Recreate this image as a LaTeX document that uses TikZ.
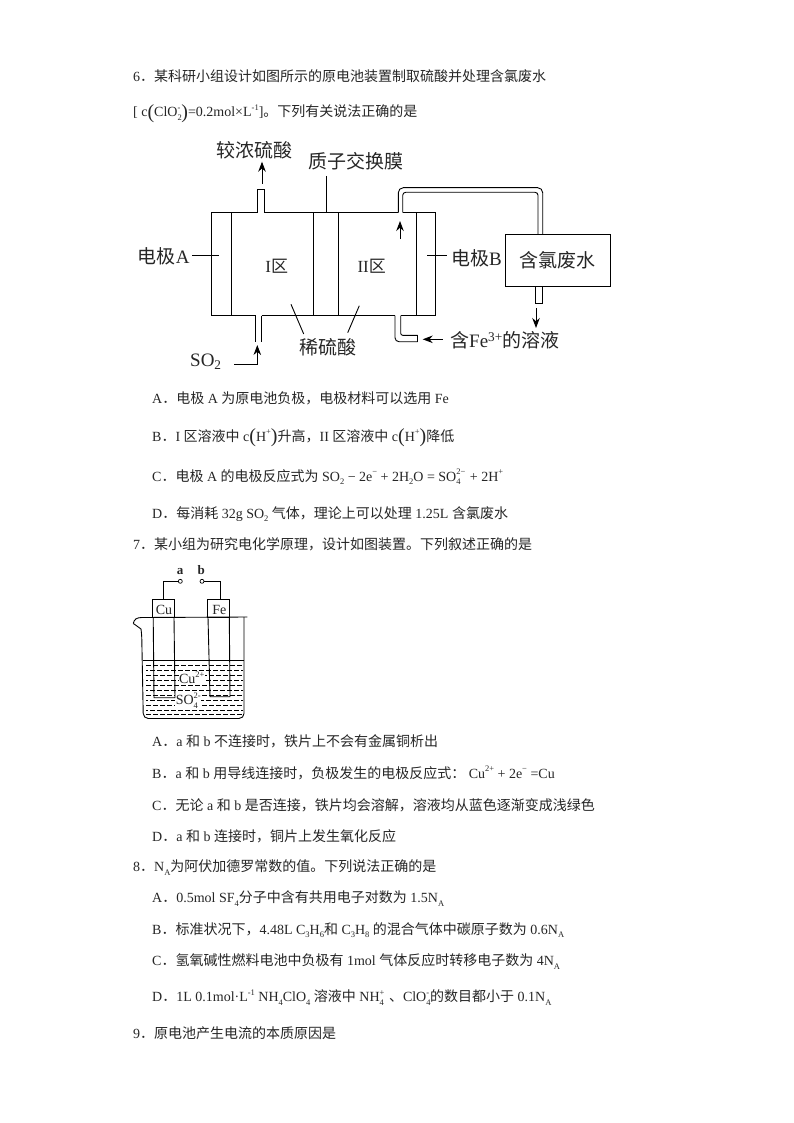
\documentclass[tikz,border=0pt]{standalone}
\usepackage{fontspec}
\setmainfont{Liberation Serif}
\newfontfamily\cjk{Noto Sans CJK SC}
\usetikzlibrary{arrows.meta}
\newcommand\zh[1]{{\cjk #1}}
\newcommand\scr[1]{{\fontsize{8.5}{8.5}\selectfont #1}}
\newcommand\dn[1]{\raisebox{-.25em}{\scr{#1}}}
\newcommand\up[1]{\raisebox{.45em}{\scr{#1}}}
\newcommand\stk[2]{\mbox{\rlap{\up{#1}}\rlap{\dn{#2}}\phantom{\scr{#1}}}\hspace{1pt}}
\newcommand\bigp[1]{\raisebox{-.12em}{\fontsize{20}{20}\selectfont #1}}
\tikzset{
  line/.style={draw=black,line width=.9pt},
  tip/.style={draw=black,line width=.9pt,-{Stealth[length=10pt,width=7.5pt]}},
  txt/.style={anchor=base west,inner sep=0pt,font=\fontsize{14}{14}\selectfont,text=black!85},
  lbl/.style={inner sep=0pt,font=\fontsize{19}{19}\selectfont,text=black!85},
  sml/.style={inner sep=0pt,font=\fontsize{14}{14}\selectfont,text=black!85},
  open/.style={circle,draw=black,fill=white,line width=.7pt,minimum size=4pt,inner sep=0pt},
}
\begin{document}
\begin{tikzpicture}[x=1pt,y=-1pt]
\useasboundingbox[fill=white] (0,0) rectangle (794,1123);

% ---------- question 6
\node[txt] (t1) at (133,82) {6\zh{．某科研小组设计如图所示的原电池装置制取硫酸并处理含氯废水}};
\node[txt] (t2) at (133,117) {[ c\bigp{(}ClO\stk{-}{2}\bigp{)}=0.2mol×L\up{-1}]\zh{。下列有关说法正确的是}};

% ---------- cell
\draw[line] (257.3,212.7) -- (211.3,212.7) -- (211.3,315.7) -- (255.7,315.7);
\draw[line] (261.7,315.7) -- (395,315.7);
\draw[line] (400.7,315.7) -- (435.3,315.7) -- (435.3,212.7) -- (402.7,212.7);
\draw[line] (398.3,212.7) -- (264,212.7);
\foreach \x in {231.7,313.3,338.7,416.7} \draw[line] (\x,212.7) -- (\x,315.7);
% upper outlet
\draw[line] (257.3,212.7) -- (257.3,189.3) -- (264,189.3) -- (264,212.7);
% tube to the waste-water box
\node[draw=black,line width=.9pt,fill=white,minimum width=104.3pt,minimum height=52.4pt,inner sep=0pt,font=\fontsize{19}{19}\selectfont,text=black!85] (box) at (557.85,260.5) {\zh{含氯废水}};
\draw[line,rounded corners=5pt] (398.3,212.7) -- (398.3,187.7) -- (542.7,187.7) -- (542.7,234.3);
\draw[line,rounded corners=3pt] (402.7,212.7) -- (402.7,192.3) -- (538,192.3) -- (538,234.3);
% box outlet
\draw[line] (535.3,286.7) -- (535.3,303.3) -- (542,303.3) -- (542,286.7);
% lower inlets
\draw[line] (255.7,315.7) -- (255.7,341.7);
\draw[line] (261.7,315.7) -- (261.7,341.7);
\draw[line,rounded corners=4pt] (395,315.7) -- (395,341.7) -- (417.7,341.7);
\draw[line,rounded corners=2pt] (400.7,315.7) -- (400.7,335.3) -- (417.7,335.3);
\draw[line] (417.7,335.3) -- (417.7,341.7);

% labels
\node[lbl] (conc) at (254,150) {\zh{较浓硫酸}};
\node[lbl] (memb) at (355.7,161) {\zh{质子交换膜}};
\node[lbl,anchor=west] (elA) at (137.7,256.7) {\zh{电极}A};
\node[lbl,anchor=west] (elB) at (451,258) {\zh{电极}B};
\node[lbl,font=\fontsize{17}{17}\selectfont] (r1) at (276.7,266.7) {I\zh{区}};
\node[lbl,font=\fontsize{17}{17}\selectfont] (r2) at (371.7,266.7) {II\zh{区}};
\node[lbl] (dil) at (328.3,347.7) {\zh{稀硫酸}};
\node[lbl,anchor=west] (so2) at (190,361.7) {SO\textsubscript{2}};
\node[lbl,anchor=west] (fe3) at (450,340) {\zh{含}Fe\textsuperscript{3+}\zh{的溶液}};

% leaders
\coordinate (la1) at (192.3,255.7); \coordinate (la2) at (218.7,255.7);
\coordinate (lb1) at (427,255.7);   \coordinate (lb2) at (446.7,255.7);
\coordinate (lm1) at (326,176);     \coordinate (lm2) at (326,212.7);
\coordinate (ld1) at (291,304.3);   \coordinate (ld2) at (303.7,334);
\coordinate (ld3) at (359.3,305.7); \coordinate (ld4) at (347.7,332.7);
\draw[line] (la1) -- (la2);
\draw[line] (lb1) -- (lb2);
\draw[line] (lm1) -- (lm2);
\draw[line] (ld1) -- (ld2);
\draw[line] (ld3) -- (ld4);

% arrows
\coordinate (u1) at (262,184);     \coordinate (u2) at (262,161.7);
\coordinate (v1) at (400,239);     \coordinate (v2) at (400,221);
\coordinate (w1) at (536,308);     \coordinate (w2) at (536,328);
\coordinate (f1) at (442.7,339.3); \coordinate (f2) at (422.7,339.3);
\coordinate (s1) at (234.3,364.3); \coordinate (s2) at (257.3,364.3); \coordinate (s3) at (257.3,345);
\draw[tip] (u1) -- (u2);
\draw[tip] (v1) -- (v2);
\draw[tip] (w1) -- (w2);
\draw[tip] (f1) -- (f2);
\draw[tip] (s1) -- (s2) -- (s3);

% options of 6
\node[txt] (a6) at (152,403) {A\zh{．电极} A \zh{为原电池负极，电极材料可以选用} Fe};
\node[txt] (b6) at (152,441) {B\zh{．}I \zh{区溶液中} c\bigp{(}H\up{+}\bigp{)}\zh{升高，}II \zh{区溶液中} c\bigp{(}H\up{+}\bigp{)}\zh{降低}};
\node[txt] (c6) at (152,481) {C\zh{．电极} A \zh{的电极反应式为} SO\dn{2} − 2e\up{−} + 2H\dn{2}O = SO\stk{2−}{4} + 2H\up{+}};
\node[txt] (d6) at (152,518) {D\zh{．每消耗} 32g SO\dn{2} \zh{气体，理论上可以处理} 1.25L \zh{含氯废水}};

% ---------- question 7
\node[txt] (t7) at (133,549) {7\zh{．某小组为研究电化学原理，设计如图装置。下列叙述正确的是}};

% beaker
\coordinate (rimL) at (141.7,617.5);
\coordinate (rimR) at (247.3,617);
\foreach \y/\ph in {665.5/0,670.5/3,675.5/0,680.5/3,685.5/0,690.5/3,695.5/0,700.5/3,705.5/0,710.5/3,714.5/0}
  \draw[line width=.7pt,dash pattern=on 4.5pt off 2.5pt,dash phase=\ph pt] (146,\y) -- (243,\y);
\draw[line width=.8pt] (143,660.7) -- (244,660.7);
\node[sml,fill=white,inner sep=.5pt] (cu2) at (191.7,678) {Cu\up{2+}};
\node[sml,fill=white,inner sep=.5pt] (so4) at (188.3,700.7) {SO\stk{2-}{4}};
\draw[line] (133.3,623.5) .. controls (134,619) and (137,617.6) .. (rimL) -- (rimR);
\draw[line,rounded corners=5pt] (133.3,623.5) .. controls (137,626) and (141,629) .. (141.7,634) -- (143.3,718.5) -- (244,718.5) -- (244,617);
% plates
\node[sml] (cuL) at (164,610) {Cu};
\node[sml] (feL) at (219.3,610) {Fe};
\draw[line] (152.7,599.3) rectangle (174,617.2);
\draw[line] (207.7,599.3) rectangle (229.3,617.2);
\draw[line] (153.2,617.2) -- (154,697.7) -- (175,697.7) -- (174,617.2);
\draw[line] (208,617.2) -- (210,696.7) -- (230,696.7) -- (229.3,617.2);
% terminals
\node[open] (ta) at (180.3,581.3) {};
\node[open] (tb) at (202,581.3) {};
\node[sml,font=\fontsize{13}{13}\selectfont\bfseries] (la) at (180,571.7) {a};
\node[sml,font=\fontsize{13}{13}\selectfont\bfseries] (lb) at (201.3,570.5) {b};
\coordinate (pa) at (163.3,599.3);
\coordinate (pb) at (220,599.3);
\draw[line] (pa) |- (ta);
\draw[line] (pb) |- (tb);

% options of 7
\node[txt] (a7) at (152,746.7) {A\zh{．}a \zh{和} b \zh{不连接时，铁片上不会有金属铜析出}};
\node[txt] (b7) at (152,778) {B\zh{．}a \zh{和} b \zh{用导线连接时，负极发生的电极反应式：} Cu\up{2+} + 2e\up{−} =Cu};
\node[txt] (c7) at (152,810) {C\zh{．无论} a \zh{和} b \zh{是否连接，铁片均会溶解，溶液均从蓝色逐渐变成浅绿色}};
\node[txt] (d7) at (152,841) {D\zh{．}a \zh{和} b \zh{连接时，铜片上发生氧化反应}};

% ---------- question 8
\node[txt] (t8) at (133,871.7) {8\zh{．}N\dn{A}\zh{为阿伏加德罗常数的值。下列说法正确的是}};
\node[txt] (a8) at (152,902.7) {A\zh{．}0.5mol SF\dn{4}\zh{分子中含有共用电子对数为} 1.5N\dn{A}};
\node[txt] (b8) at (152,934) {B\zh{．标准状况下，}4.48L C\dn{3}H\dn{6}\zh{和} C\dn{3}H\dn{8} \zh{的混合气体中碳原子数为} 0.6N\dn{A}};
\node[txt] (c8) at (152,965.7) {C\zh{．氢氧碱性燃料电池中负极有} 1mol \zh{气体反应时转移电子数为} 4N\dn{A}};
\node[txt] (d8) at (152,1001.7) {D\zh{．}1L 0.1mol·L\up{-1} NH\dn{4}ClO\dn{4} \zh{溶液中} NH\stk{+}{4} \zh{、}ClO\stk{-}{4}\zh{的数目都小于} 0.1N\dn{A}};

% ---------- question 9
\node[txt] (t9) at (133,1038) {9\zh{．原电池产生电流的本质原因是}};
\end{tikzpicture}
\end{document}
